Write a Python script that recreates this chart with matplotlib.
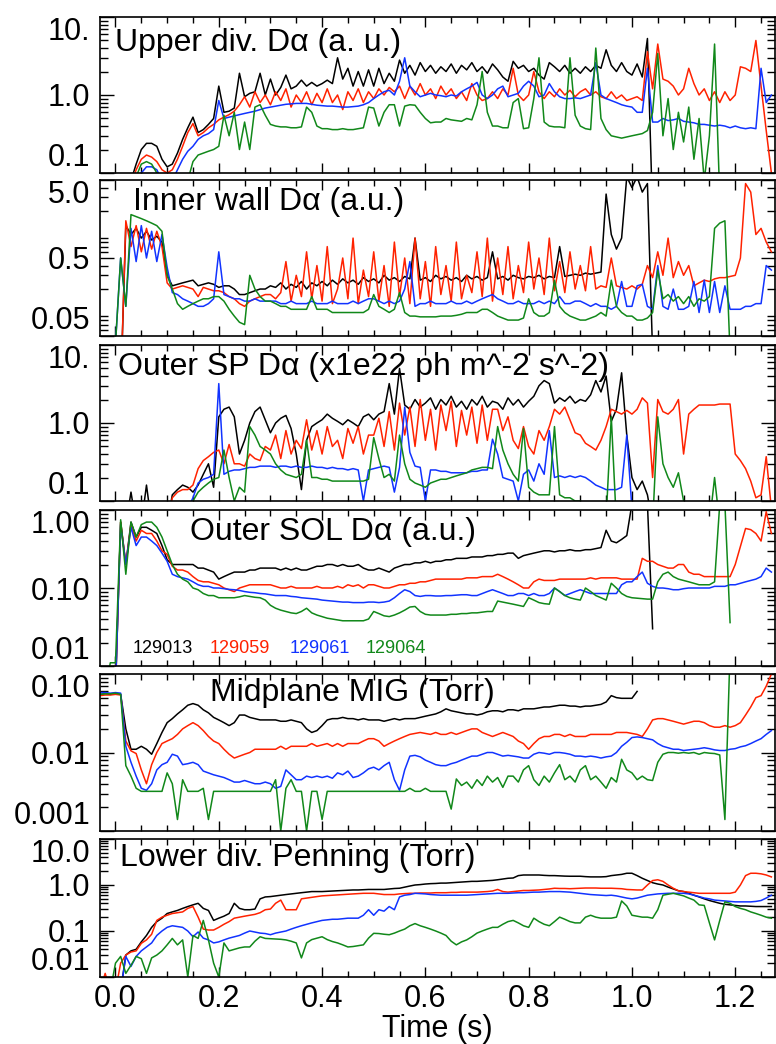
import numpy as np
import matplotlib
matplotlib.use("Agg")
import matplotlib.pyplot as plt
from matplotlib.ticker import FixedLocator, NullFormatter, LogLocator, MultipleLocator

plt.rcParams['font.family'] = ['Liberation Sans', 'DejaVu Sans']

nan = np.nan

# time base of the traces (s), one sample every 10 ms
t = np.round(np.arange(-0.03, 1.275, 0.01), 2)

shots = ["129013", "129059", "129061", "129064"]
colors = ["black", "#ff2200", "#1133ff", "#11881a"]

# -- Upper divertor D-alpha (a. u.) --
up_black = [0.05, 0.05, 0.05,
    0.05, 0.05, 0.06, 0.08, 0.13, 0.2, 0.24, 0.24, 0.22, 0.15,
    0.12, 0.13, 0.18, 0.27, 0.38, 0.52, 0.33, 0.36, 0.42, 0.5,
    1.3, 0.6, 0.62, 0.68, 1.9, 0.95, 1.05, 1.1, 1.9, 1.0,
    1.6, 1.0, 1.25, 1.8, 1.2, 1.3, 1.55, 1.3, 1.45, 1.3,
    1.4, 1.55, 1.4, 3.0, 1.6, 2.2, 1.3, 2.0, 1.3, 2.1,
    1.3, 2.2, 1.4, 1.9, 1.5, 2.8, 1.9, 2.4, 1.8, 2.6,
    2.0, 2.4, 1.9, 2.3, 2.0, 2.5, 1.9, 2.4, 2.1, 2.6,
    2.0, 2.3, 1.9, 2.5, 2.1, 1.7, 1.5, 2.7, 2.2, 2.4,
    2.0, 2.2, 1.8, 1.6, 2.6, 2.3, 2.0, 2.4, 1.9, 2.2,
    1.9, 2.3, 2.0, 2.4, 2.2, 3.8, 2.4, 2.0, 2.6, 2.0,
    1.8, 2.5, 1.7, 5.3, 0.03, nan, nan, nan, nan, nan,
    nan, nan, nan, nan, nan, nan, nan, nan, nan, nan,
    nan, nan, nan, nan, nan, nan, nan, nan]
up_red = [0.05, 0.05, 0.05,
    0.05, 0.05, 0.06, 0.07, 0.11, 0.15, 0.17, 0.16, 0.14, 0.11,
    0.10, 0.11, 0.15, 0.22, 0.33, 0.43, 0.3, 0.33, 0.38, 0.42,
    0.48, 0.52, 0.56, 0.62, 0.75, 0.95, 0.7, 1.1, 0.8, 1.0,
    0.75, 1.1, 0.85, 1.2, 0.7, 1.0, 0.8, 1.1, 0.75, 1.05,
    0.8, 1.2, 0.8, 1.0, 0.65, 1.1, 0.85, 1.2, 0.8, 1.1,
    0.9, 1.2, 1.0, 1.25, 1.1, 1.3, 0.9, 1.3, 1.0, 1.4,
    1.0, 1.2, 0.9, 1.3, 1.0, 1.2, 0.9, 1.1, 0.85, 1.4,
    1.0, 0.85, 0.9, 1.1, 0.9, 1.2, 1.0, 2.2, 1.0, 0.85,
    1.0, 2.0, 1.1, 0.9, 1.1, 0.95, 1.2, 1.0, 1.15, 0.95,
    1.1, 1.2, 1.0, 1.1, 0.95, 0.9, 1.1, 0.9, 1.0, 0.85,
    0.9, 0.95, 0.85, 3.6, 1.2, 4.5, 1.6, 1.5, 1.3, 1.0,
    1.2, 2.2, 1.4, 1.0, 1.2, 0.85, 1.1, 0.8, 1.1, 0.85,
    1.0, 2.3, 2.2, 2.0, 5.0, 1.3, 0.35, 0.1]
up_blue = [0.03, 0.03, 0.03,
    0.03, 0.04, 0.05, 0.07, 0.09, 0.1, 0.12, 0.12, 0.11, 0.08,
    0.07, 0.08, 0.11, 0.15, 0.19, 0.22, 0.27, 0.3, 0.32, 0.36,
    0.85, 0.5, 0.52, 0.54, 0.56, 0.58, 0.6, 0.62, 0.65, 0.68,
    0.7, 0.72, 0.74, 0.76, 0.77, 0.78, 0.78, 0.78, 0.76, 0.74,
    0.73, 0.72, 0.72, 0.71, 0.7, 0.7, 0.71, 0.72, 0.75, 0.8,
    0.9, 1.0, 1.1, 1.15, 1.0, 1.5, 3.0, 1.3, 1.1, 0.95,
    1.0, 1.05, 1.0, 0.98, 0.95, 1.0, 0.97, 1.1, 1.2, 1.3,
    1.45, 1.0, 0.9, 1.0, 1.2, 1.3, 0.95, 1.0, 1.05, 1.3,
    1.5, 1.3, 0.95, 1.0, 1.4, 1.1, 0.95, 0.9, 0.9, 0.92,
    0.9, 0.95, 1.0, 2.6, 1.0, 0.9, 0.85, 0.8, 0.75, 0.72,
    0.7, 0.6, 0.6, 2.2, 0.45, 0.45, 0.5, 0.47, 0.48, 0.5,
    0.46, 0.45, 0.44, 0.42, 0.42, 0.41, 0.4, 0.41, 0.4, 0.38,
    0.4, 0.38, 0.37, 0.38, 0.37, 2.2, 0.8, 1.0]
up_green = [0.03, 0.03, 0.03,
    0.03, 0.04, 0.05, 0.06, 0.09, 0.13, 0.14, 0.13, 0.1, 0.08,
    0.06, 0.05, 0.05, 0.06, 0.08, 0.14, 0.17, 0.18, 0.19, 0.2,
    0.22, 0.55, 0.3, 0.6, 0.2, 0.45, 0.2, 0.7, 0.75, 0.55,
    0.42, 0.4, 0.39, 0.39, 0.38, 0.38, 0.39, 0.7, 0.6, 0.4,
    0.37, 0.37, 0.36, 0.36, 0.37, 0.36, 0.36, 0.37, 0.38, 0.7,
    0.68, 0.4, 0.6, 0.75, 0.75, 0.4, 0.72, 0.75, 0.74, 0.6,
    0.5, 0.44, 0.45, 0.45, 0.5, 0.48, 0.47, 0.46, 0.5, 0.48,
    0.75, 2.0, 0.6, 0.4, 0.4, 0.38, 0.38, 0.8, 0.9, 0.37,
    0.38, 0.9, 3.0, 0.45, 0.4, 0.39, 0.39, 0.38, 3.0, 0.55,
    0.4, 0.37, 0.36, 4.0, 0.5, 0.36, 0.3, 0.29, 0.28, 0.29,
    0.3, 0.31, 0.32, 0.35, 0.6, 3.4, 0.3, 0.9, 0.2, 0.6,
    0.25, 0.7, 0.15, 0.5, 0.08, 0.3, 4.5, 0.05, nan, nan,
    nan, nan, nan, nan, nan, nan, nan, nan]

# -- Inner wall D-alpha (a.u.) --
in_black = [0.01, 0.01, 0.01,
    0.01, 0.01, 1.3, 1.0, 1.2, 0.9, 1.1, 0.85, 0.95, 0.8,
    0.3, 0.22, 0.23, 0.24, 0.25, 0.26, 0.22, 0.23, 0.24, 0.23,
    0.21, 0.22, 0.22, 0.2, 0.17, 0.17, 0.18, 0.19, 0.2, 0.2,
    0.22, 0.21, 0.24, 0.2, 0.23, 0.21, 0.25, 0.2, 0.24, 0.22,
    0.25, 0.22, 0.26, 0.23, 0.27, 0.24, 0.26, 0.23, 0.28, 0.25,
    0.27, 0.24, 0.3, 0.26, 0.28, 0.25, 0.29, 0.27, 0.9, 0.26,
    0.28, 0.25, 0.3, 0.27, 0.29, 0.26, 0.28, 0.25, 0.3, 0.27,
    0.29, 0.26, 0.28, 0.6, 0.27, 0.29, 0.26, 0.3, 0.28, 0.27,
    0.29, 0.28, 0.3, 0.27, 0.29, 0.28, 0.7, 0.29, 0.3, 0.31,
    0.3, 0.32, 0.31, 0.32, 0.33, 3.3, 1.0, 0.65, 0.9, 5.5,
    4.0, 5.5, 3.5, 4.5, 0.03, nan, nan, nan, nan, nan,
    nan, nan, nan, nan, nan, nan, nan, nan, nan, nan,
    nan, nan, nan, nan, nan, nan, nan, nan]
in_red = [0.01, 0.01, 0.01,
    0.01, 0.01, 1.5, 0.7, 1.3, 0.6, 1.2, 0.65, 1.1, 0.7,
    0.24, 0.2, 0.21, 0.22, 0.21, 0.2, 0.16, 0.21, 0.2, 0.19,
    0.19, 0.18, 0.16, 0.15, 0.13, 0.12, 0.14, 0.15, 0.16, 0.17,
    0.17, 0.15, 0.18, 0.45, 0.14, 0.3, 0.16, 0.6, 0.15, 0.4,
    0.14, 0.7, 0.13, 0.2, 0.5, 0.15, 0.9, 0.13, 0.35, 0.16,
    0.6, 0.14, 0.4, 0.12, 0.8, 0.16, 0.5, 0.13, 0.9, 0.15,
    0.45, 0.12, 0.7, 0.17, 0.4, 0.14, 0.8, 0.15, 0.3, 0.18,
    0.6, 0.16, 0.9, 0.14, 0.5, 0.17, 0.7, 0.15, 0.4, 0.18,
    0.8, 0.2, 0.5, 0.17, 0.9, 0.19, 0.45, 0.18, 0.6, 0.2,
    0.4, 0.19, 0.7, 0.2, 0.22, 0.21, 0.5, 0.22, 0.21, 0.2,
    0.22, 0.2, 0.23, 0.4, 0.28, 0.6, 0.3, 0.9, 0.28, 0.45,
    0.3, 0.4, 0.22, 0.24, 0.26, 0.25, 0.27, 0.28, 0.28, 0.29,
    0.3, 0.5, 4.5, 3.5, 1.0, 1.2, 0.8, 0.6]
in_blue = [0.01, 0.01, 0.01,
    0.04, 0.5, 0.12, 1.2, 0.45, 1.3, 0.5, 1.1, 0.45, 1.0,
    0.38, 0.18, 0.17, 0.15, 0.14, 0.13, 0.12, 0.12, 0.13, 0.15,
    0.6, 0.17, 0.16, 0.15, 0.15, 0.14, 0.14, 0.15, 0.14, 0.14,
    0.14, 0.14, 0.13, 0.13, 0.14, 0.13, 0.13, 0.13, 0.14, 0.13,
    0.13, 0.13, 0.14, 0.13, 0.13, 0.13, 0.14, 0.13, 0.14, 0.15,
    0.15, 0.14, 0.13, 0.14, 0.13, 0.14, 0.2, 0.45, 0.12, 0.13,
    0.13, 0.14, 0.13, 0.13, 0.13, 0.14, 0.13, 0.13, 0.14, 0.13,
    0.14, 0.15, 0.16, 0.17, 0.15, 0.14, 0.13, 0.13, 0.14, 0.13,
    0.13, 0.13, 0.14, 0.13, 0.14, 0.13, 0.16, 0.13, 0.13, 0.14,
    0.14, 0.13, 0.12, 0.13, 0.12, 0.12, 0.11, 0.12, 0.25, 0.12,
    0.12, 0.22, 0.23, 0.12, 0.11, 0.4, 0.12, 0.11, 0.2, 0.11,
    0.11, 0.12, 0.25, 0.1, 0.26, 0.1, 0.25, 0.1, 0.22, 0.11,
    0.11, 0.11, 0.12, 0.12, 0.13, 0.13, 0.4, 0.35]
in_green = [0.01, 0.01, 0.01,
    0.04, 0.5, 0.12, 1.8, 1.7, 1.6, 1.5, 1.4, 1.3, 1.1,
    0.3, 0.2, 0.13, 0.11, 0.12, 0.13, 0.14, 0.15, 0.15, 0.16,
    0.16, 0.14, 0.11, 0.09, 0.075, 0.07, 0.3, 0.2, 0.16, 0.14,
    0.14, 0.13, 0.12, 0.12, 0.11, 0.11, 0.11, 0.11, 0.16, 0.11,
    0.11, 0.11, 0.1, 0.1, 0.1, 0.1, 0.1, 0.1, 0.1, 0.11,
    0.17, 0.12, 0.11, 0.1, 0.11, 0.18, 0.1, 0.09, 0.09, 0.088,
    0.088, 0.088, 0.088, 0.09, 0.09, 0.09, 0.092, 0.095, 0.1, 0.1,
    0.1, 0.11, 0.11, 0.1, 0.09, 0.085, 0.08, 0.08, 0.08, 0.085,
    0.15, 0.1, 0.09, 0.09, 0.1, 0.26, 0.12, 0.1, 0.09, 0.085,
    0.08, 0.08, 0.085, 0.09, 0.1, 0.09, 0.26, 0.12, 0.1, 0.09,
    0.09, 0.08, 0.08, 0.085, 0.1, 0.35, 0.15, 0.17, 0.14, 0.16,
    0.13, 0.16, 0.12, 0.15, 0.14, 0.16, 1.2, 1.4, 1.5, 0.03,
    nan, nan, nan, nan, nan, nan, nan, nan]

# -- Outer strike point D-alpha (x1e22 ph m^-2 s^-2) --
sp_black = [0.05, 0.05, 0.05,
    0.05, 0.05, 0.05, 0.13, 0.05, 0.05, 0.16, 0.05, 0.05, 0.05,
    0.05, 0.12, 0.14, 0.16, 0.15, 0.13, 0.16, 0.22, 0.3, 0.15,
    1.2, 1.5, 1.6, 1.2, 0.4, 0.6, 1.0, 1.4, 1.6, 1.1,
    0.75, 1.0, 1.15, 1.25, 0.85, 0.4, 0.14, 0.6, 0.9, 1.0,
    1.1, 1.3, 1.15, 1.05, 0.95, 1.1, 1.0, 0.9, 1.2, 1.3,
    1.1, 1.3, 1.4, 3.2, 1.3, 5.0, 1.7, 1.5, 2.0, 1.6,
    1.8, 2.1, 1.5, 2.0, 1.7, 2.2, 1.6, 1.9, 1.5, 2.0,
    1.7, 2.2, 1.6, 1.9, 1.8, 1.5, 2.1, 1.7, 2.0, 1.6,
    1.9, 2.2, 3.0, 3.5, 3.2, 1.8, 2.1, 1.9, 2.2, 1.8,
    2.0, 1.9, 2.3, 3.5, 2.5, 4.0, 1.05, 1.5, 4.4, 0.7,
    0.2, 0.14, 0.18, 0.12, 0.05, nan, nan, nan, nan, nan,
    nan, nan, nan, nan, nan, nan, nan, nan, nan, nan,
    nan, nan, nan, nan, nan, nan, nan, nan]
sp_red = [0.05, 0.05, 0.05,
    0.05, 0.05, 0.05, 0.05, 0.05, 0.05, 0.05, 0.05, 0.05, 0.05,
    0.05, 0.11, 0.13, 0.14, 0.14, 0.16, 0.26, 0.33, 0.37, 0.42,
    0.45, 0.3, 0.53, 0.3, 0.3, 0.28, 0.4, 0.35, 0.33, 0.5,
    0.45, 0.7, 0.35, 0.8, 0.4, 0.6, 0.47, 1.1, 0.45, 0.8,
    0.4, 0.9, 0.5, 0.6, 0.35, 0.85, 0.55, 0.9, 0.4, 0.7,
    0.7, 1.15, 0.5, 1.4, 0.45, 1.8, 0.7, 1.6, 0.5, 2.0,
    0.6, 1.5, 0.45, 1.7, 0.8, 1.9, 0.5, 1.45, 0.7, 1.6,
    0.55, 1.7, 0.6, 1.5, 1.5, 0.8, 1.2, 0.6, 0.47, 0.9,
    0.5, 0.4, 0.8, 0.6, 0.9, 1.5, 1.3, 1.6, 1.1, 0.75,
    0.7, 0.55, 0.5, 0.45, 0.6, 0.9, 1.5, 1.4, 1.3, 1.45,
    1.3, 1.5, 2.1, 1.8, 0.2, 2.0, 1.4, 1.3, 1.5, 2.0,
    0.4, 1.3, 1.5, 1.7, 1.7, 1.7, 1.7, 1.75, 1.75, 1.75,
    0.4, 0.33, 0.26, 0.18, 0.11, 0.12, 0.37, 0.08]
sp_blue = [0.05, 0.05, 0.05,
    0.05, 0.05, 0.05, 0.05, 0.05, 0.05, 0.05, 0.05, 0.05, 0.05,
    0.05, 0.05, 0.05, 0.05, 0.08, 0.11, 0.17, 0.19, 0.2, 0.22,
    3.2, 0.22, 0.24, 0.25, 0.25, 0.26, 0.27, 0.27, 0.28, 0.28,
    0.28, 0.27, 0.28, 0.28, 0.27, 0.28, 0.27, 0.27, 0.28, 0.27,
    0.27, 0.26, 0.27, 0.26, 0.26, 0.25, 0.26, 0.25, 0.1, 0.25,
    0.26, 0.27, 0.28, 0.27, 0.13, 0.27, 1.6, 0.42, 0.28, 0.27,
    0.1, 0.25, 0.25, 0.24, 0.24, 0.23, 0.23, 0.23, 0.23, 0.24,
    0.24, 0.25, 0.25, 0.62, 0.4, 0.2, 0.19, 0.18, 0.1, 0.22,
    0.25, 0.18, 0.3, 0.22, 0.8, 0.2, 0.21, 0.2, 0.21, 0.2,
    0.21, 0.2, 0.18, 0.16, 0.15, 0.14, 0.14, 0.14, 0.15, 0.7,
    0.08, 0.05, nan, nan, nan, nan, nan, nan, nan, nan,
    nan, nan, nan, nan, nan, nan, nan, nan, nan, nan,
    nan, nan, nan, nan, nan, nan, nan, nan]
sp_green = [0.05, 0.05, 0.05,
    0.05, 0.05, 0.05, 0.05, 0.05, 0.05, 0.05, 0.05, 0.05, 0.05,
    0.05, 0.05, 0.05, 0.05, 0.05, 0.1, 0.13, 0.15, 0.17, 0.19,
    0.2, 0.45, 0.2, 0.1, 0.15, 0.13, 0.9, 0.7, 0.5, 0.45,
    0.4, 0.3, 0.25, 0.22, 0.21, 0.2, 0.22, 0.6, 0.2, 0.2,
    0.19, 0.19, 0.18, 0.18, 0.18, 0.18, 0.18, 0.18, 0.18, 0.19,
    0.65, 0.35, 0.2, 0.22, 0.18, 0.7, 0.3, 0.19, 0.17, 0.16,
    0.15, 0.17, 0.18, 0.19, 0.19, 0.2, 0.21, 0.22, 0.23, 0.25,
    0.26, 0.27, 0.27, 0.26, 0.9, 0.45, 0.3, 0.22, 0.18, 0.85,
    0.15, 0.13, 0.12, 0.12, 0.12, 0.9, 0.12, 0.11, 0.11, 0.1,
    0.1, 0.09, 0.08, 0.07, 0.06, 0.06, 1.2, 0.05, 0.05, 0.05,
    0.05, 0.05, 0.05, 0.05, 0.05, 1.2, 0.3, 0.2, 0.15, 0.23,
    0.1, 0.05, 0.05, 0.05, 0.05, 0.05, 0.2, 0.05, 0.05, 0.05,
    0.05, 0.05, 0.05, 0.05, 0.05, 0.05, 0.05, 0.05]

# -- Outer SOL D-alpha (a.u.) --
sol_black = [0.005, 0.005, 0.005,
    0.005, 0.7, 0.2, 0.7, 0.45, 0.6, 0.6, 0.55, 0.5, 0.35,
    0.23, 0.2, 0.2, 0.2, 0.2, 0.2, 0.18, 0.18, 0.17, 0.16,
    0.13, 0.14, 0.15, 0.16, 0.16, 0.16, 0.17, 0.17, 0.18, 0.18,
    0.18, 0.18, 0.17, 0.18, 0.17, 0.18, 0.17, 0.17, 0.18, 0.19,
    0.19, 0.2, 0.2, 0.19, 0.2, 0.19, 0.19, 0.2, 0.18, 0.17,
    0.17, 0.18, 0.17, 0.16, 0.18, 0.19, 0.2, 0.2, 0.21, 0.21,
    0.22, 0.21, 0.22, 0.22, 0.23, 0.23, 0.24, 0.24, 0.24, 0.25,
    0.25, 0.25, 0.26, 0.26, 0.27, 0.27, 0.28, 0.28, 0.24, 0.26,
    0.27, 0.28, 0.29, 0.3, 0.3, 0.29, 0.3, 0.3, 0.31, 0.3,
    0.3, 0.31, 0.31, 0.32, 0.33, 0.55, 0.4, 0.38, 0.42, 0.47,
    1.2, 1.2, 1.2, 1.2, 0.03, nan, nan, nan, nan, nan,
    nan, nan, nan, nan, nan, nan, nan, nan, nan, nan,
    nan, nan, nan, nan, nan, nan, nan, nan]
sol_red = [0.005, 0.005, 0.005,
    0.005, 0.7, 0.2, 0.65, 0.4, 0.55, 0.5, 0.5, 0.4, 0.3,
    0.27, 0.19, 0.17, 0.17, 0.16, 0.14, 0.125, 0.12, 0.12, 0.115,
    0.11, 0.1, 0.095, 0.09, 0.1, 0.105, 0.11, 0.11, 0.11, 0.11,
    0.11, 0.105, 0.1, 0.1, 0.105, 0.1, 0.1, 0.1, 0.1, 0.105,
    0.1, 0.1, 0.1, 0.105, 0.1, 0.11, 0.105, 0.11, 0.1, 0.11,
    0.11, 0.105, 0.1, 0.1, 0.105, 0.11, 0.11, 0.115, 0.115, 0.12,
    0.12, 0.125, 0.13, 0.13, 0.13, 0.13, 0.13, 0.13, 0.135, 0.135,
    0.135, 0.14, 0.14, 0.14, 0.15, 0.14, 0.13, 0.12, 0.11, 0.1,
    0.1, 0.12, 0.13, 0.125, 0.125, 0.125, 0.13, 0.13, 0.13, 0.13,
    0.13, 0.13, 0.135, 0.13, 0.135, 0.135, 0.135, 0.135, 0.13, 0.13,
    0.13, 0.13, 0.24, 0.22, 0.22, 0.2, 0.19, 0.18, 0.18, 0.2,
    0.2, 0.16, 0.15, 0.15, 0.14, 0.14, 0.14, 0.14, 0.14, 0.14,
    0.2, 0.34, 0.58, 0.56, 0.5, 0.4, 0.95, 0.5]
sol_blue = [0.005, 0.005, 0.005,
    0.005, 0.65, 0.2, 0.6, 0.35, 0.45, 0.45, 0.4, 0.35, 0.28,
    0.22, 0.15, 0.14, 0.135, 0.13, 0.12, 0.11, 0.105, 0.105, 0.1,
    0.1, 0.098, 0.096, 0.095, 0.093, 0.09, 0.088, 0.087, 0.085, 0.084,
    0.082, 0.08, 0.08, 0.08, 0.078, 0.077, 0.075, 0.074, 0.073, 0.072,
    0.07, 0.069, 0.068, 0.067, 0.066, 0.066, 0.065, 0.065, 0.065, 0.066,
    0.066, 0.065, 0.066, 0.068, 0.075, 0.085, 0.095, 0.09, 0.08, 0.078,
    0.08, 0.08, 0.079, 0.079, 0.08, 0.08, 0.081, 0.082, 0.082, 0.08,
    0.08, 0.085, 0.09, 0.095, 0.09, 0.085, 0.08, 0.08, 0.085, 0.085,
    0.08, 0.085, 0.08, 0.08, 0.085, 0.1, 0.09, 0.08, 0.085, 0.09,
    0.095, 0.09, 0.085, 0.085, 0.085, 0.085, 0.085, 0.085, 0.11, 0.12,
    0.12, 0.14, 0.16, 0.115, 0.105, 0.1, 0.1, 0.098, 0.095, 0.095,
    0.098, 0.1, 0.1, 0.1, 0.1, 0.1, 0.105, 0.105, 0.105, 0.11,
    0.11, 0.115, 0.12, 0.125, 0.13, 0.14, 0.18, 0.16]
sol_green = [0.005, 0.005, 0.011,
    0.011, 0.75, 0.15, 0.7, 0.45, 0.65, 0.7, 0.7, 0.6, 0.45,
    0.3, 0.2, 0.15, 0.13, 0.12, 0.1, 0.095, 0.085, 0.08, 0.08,
    0.075, 0.075, 0.075, 0.075, 0.077, 0.08, 0.078, 0.076, 0.075, 0.07,
    0.06, 0.055, 0.052, 0.05, 0.048, 0.047, 0.05, 0.055, 0.048, 0.045,
    0.043, 0.041, 0.04, 0.039, 0.038, 0.038, 0.038, 0.038, 0.038, 0.04,
    0.05, 0.047, 0.044, 0.043, 0.045, 0.048, 0.052, 0.057, 0.058, 0.05,
    0.046, 0.045, 0.045, 0.045, 0.045, 0.046, 0.046, 0.047, 0.047, 0.048,
    0.048, 0.049, 0.05, 0.05, 0.068, 0.066, 0.064, 0.062, 0.06, 0.058,
    0.075, 0.07, 0.065, 0.063, 0.062, 0.1, 0.09, 0.08, 0.075, 0.072,
    0.07, 0.1, 0.09, 0.08, 0.075, 0.07, 0.115, 0.1, 0.085, 0.078,
    0.075, 0.074, 0.073, 0.072, 0.072, 0.12, 0.15, 0.16, 0.14, 0.13,
    0.125, 0.12, 0.115, 0.11, 0.11, 0.11, 0.12, 1.2, 1.2, 0.036,
    nan, nan, nan, nan, nan, nan, nan, nan]

# -- Midplane MIG (Torr) --
mig_black = [0.055, 0.056, 0.055,
    0.056, 0.055, 0.02, 0.011, 0.011, 0.012, 0.011, 0.0095, 0.013, 0.018,
    0.024, 0.027, 0.031, 0.035, 0.04, 0.042, 0.04, 0.035, 0.032, 0.028,
    0.026, 0.024, 0.022, 0.024, 0.03, 0.03, 0.028, 0.027, 0.026, 0.026,
    0.026, 0.026, 0.025, 0.025, 0.026, 0.025, 0.024, 0.02, 0.018, 0.019,
    0.022, 0.026, 0.027, 0.027, 0.028, 0.027, 0.027, 0.026, 0.027, 0.026,
    0.026, 0.026, 0.025, 0.026, 0.027, 0.026, 0.027, 0.027, 0.027, 0.028,
    0.029, 0.03, 0.031, 0.033, 0.036, 0.034, 0.033, 0.032, 0.031, 0.031,
    0.03, 0.031, 0.033, 0.034, 0.034, 0.033, 0.035, 0.035, 0.034, 0.036,
    0.036, 0.036, 0.037, 0.038, 0.038, 0.039, 0.04, 0.04, 0.039, 0.039,
    0.038, 0.039, 0.039, 0.04, 0.041, 0.044, 0.053, 0.05, 0.049, 0.049,
    0.049, 0.06, nan, nan, nan, nan, nan, nan, nan, nan,
    nan, nan, nan, nan, nan, nan, nan, nan, nan, nan,
    nan, nan, nan, nan, nan, nan, nan, nan]
mig_red = [0.053, 0.054, 0.054,
    0.055, 0.054, 0.014, 0.0105, 0.0097, 0.006, 0.004, 0.007, 0.01, 0.013,
    0.014, 0.015, 0.017, 0.02, 0.022, 0.024, 0.022, 0.019, 0.016, 0.014,
    0.013, 0.011, 0.0095, 0.0085, 0.009, 0.0095, 0.01, 0.011, 0.011, 0.011,
    0.011, 0.011, 0.012, 0.011, 0.012, 0.012, 0.012, 0.012, 0.013, 0.012,
    0.0125, 0.013, 0.012, 0.013, 0.012, 0.013, 0.013, 0.013, 0.014, 0.015,
    0.015, 0.014, 0.012, 0.013, 0.014, 0.015, 0.016, 0.017, 0.0175, 0.018,
    0.0175, 0.017, 0.018, 0.017, 0.017, 0.018, 0.017, 0.018, 0.019, 0.02,
    0.02, 0.018, 0.017, 0.016, 0.017, 0.018, 0.017, 0.016, 0.014, 0.013,
    0.011, 0.013, 0.015, 0.016, 0.016, 0.017, 0.017, 0.016, 0.017, 0.016,
    0.016, 0.016, 0.017, 0.017, 0.017, 0.017, 0.017, 0.018, 0.018, 0.018,
    0.0175, 0.017, 0.016, 0.02, 0.026, 0.027, 0.027, 0.026, 0.025, 0.024,
    0.023, 0.024, 0.025, 0.025, 0.024, 0.022, 0.021, 0.021, 0.022, 0.021,
    0.022, 0.024, 0.03, 0.038, 0.05, 0.053, 0.07, 0.1]
mig_blue = [0.058, 0.058, 0.057,
    0.058, 0.057, 0.012, 0.0075, 0.005, 0.0035, 0.0033, 0.004, 0.006, 0.007,
    0.0075, 0.0095, 0.009, 0.007, 0.0072, 0.0075, 0.007, 0.0058, 0.0055, 0.0052,
    0.005, 0.0048, 0.0045, 0.0042, 0.0042, 0.0044, 0.0042, 0.004, 0.004, 0.0042,
    0.004, 0.0035, 0.0037, 0.006, 0.0052, 0.0045, 0.0045, 0.005, 0.0048, 0.005,
    0.0048, 0.005, 0.0047, 0.0055, 0.0052, 0.0058, 0.0048, 0.005, 0.0055, 0.0062,
    0.0065, 0.006, 0.0068, 0.0075, 0.0045, 0.0033, 0.006, 0.009, 0.0092, 0.0088,
    0.008, 0.0075, 0.007, 0.0068, 0.0068, 0.0072, 0.0075, 0.008, 0.0085, 0.009,
    0.009, 0.0095, 0.01, 0.01, 0.0095, 0.009, 0.0092, 0.009, 0.0088, 0.0085,
    0.0085, 0.0095, 0.01, 0.0098, 0.0095, 0.01, 0.01, 0.0098, 0.0095, 0.009,
    0.009, 0.0088, 0.009, 0.0088, 0.0085, 0.0088, 0.009, 0.01, 0.012, 0.0135,
    0.0155, 0.0158, 0.0155, 0.015, 0.0145, 0.013, 0.012, 0.0115, 0.011, 0.011,
    0.0106, 0.0108, 0.011, 0.0112, 0.0115, 0.0112, 0.0108, 0.0106, 0.0106, 0.011,
    0.0112, 0.0118, 0.0122, 0.013, 0.014, 0.015, 0.017, 0.019]
mig_green = [0.055, 0.056, 0.056,
    0.057, 0.055, 0.0068, 0.005, 0.0035, 0.0032, 0.0032, 0.0032, 0.0032, 0.0032,
    0.0055, 0.004, 0.0014, 0.0045, 0.0032, 0.0032, 0.0032, 0.0035, 0.0014, 0.0032,
    0.0032, 0.0032, 0.0032, 0.0032, 0.0032, 0.0032, 0.0032, 0.0032, 0.0032, 0.0032,
    0.0032, 0.0045, 0.001, 0.0035, 0.0045, 0.0032, 0.0032, 0.001, 0.0032, 0.0032,
    0.0014, 0.0032, 0.0032, 0.0032, 0.0032, 0.0032, 0.0032, 0.0032, 0.0032, 0.0032,
    0.0032, 0.0032, 0.0032, 0.0032, 0.0032, 0.0032, 0.0032, 0.0035, 0.0032, 0.0032,
    0.0035, 0.0032, 0.0032, 0.0032, 0.0032, 0.0019, 0.0046, 0.0038, 0.0042, 0.0035,
    0.0045, 0.0038, 0.005, 0.0042, 0.0048, 0.0036, 0.005, 0.005, 0.0042, 0.006,
    0.0068, 0.0045, 0.0038, 0.005, 0.0042, 0.0055, 0.007, 0.0045, 0.005, 0.0042,
    0.006, 0.0068, 0.0045, 0.005, 0.0042, 0.0035, 0.0048, 0.0042, 0.0082, 0.006,
    0.0055, 0.0045, 0.005, 0.0045, 0.0044, 0.0075, 0.0095, 0.01, 0.01, 0.0098,
    0.01, 0.0098, 0.01, 0.0095, 0.01, 0.0098, 0.0097, 0.0093, 0.0014, 0.2,
    nan, nan, nan, nan, nan, nan, nan, nan]

# -- Lower divertor Penning (Torr) --
pen_black = [0.005, 0.005, 0.005,
    0.005, 0.005, 0.03, 0.037, 0.04, 0.058, 0.08, 0.12, 0.16, 0.19,
    0.24, 0.26, 0.28, 0.31, 0.34, 0.37, 0.4, 0.31, 0.28, 0.17,
    0.19, 0.21, 0.24, 0.4, 0.31, 0.29, 0.29, 0.3, 0.5, 0.55,
    0.56, 0.58, 0.6, 0.62, 0.64, 0.66, 0.68, 0.7, 0.72, 0.72,
    0.72, 0.73, 0.74, 0.75, 0.76, 0.77, 0.78, 0.78, 0.79, 0.8,
    0.8, 0.8, 0.8, 0.82, 0.84, 0.85, 0.9, 0.95, 1.0, 1.02,
    1.05, 1.07, 1.08, 1.1, 1.1, 1.12, 1.14, 1.16, 1.18, 1.2,
    1.2, 1.22, 1.24, 1.26, 1.3, 1.35, 1.4, 1.42, 1.6, 1.65,
    1.65, 1.65, 1.65, 1.62, 1.6, 1.6, 1.58, 1.56, 1.55, 1.55,
    1.55, 1.52, 1.5, 1.5, 1.5, 1.52, 1.6, 1.65, 1.7, 1.8,
    1.8, 1.6, 1.4, 1.25, 1.12, 1.05, 1.0, 0.9, 0.82, 0.75,
    0.72, 0.66, 0.6, 0.55, 0.5, 0.46, 0.43, 0.4, 0.38, 0.37,
    0.36, 0.35, 0.35, 0.345, 0.34, 0.34, 0.34, 0.34]
pen_red = [0.005, 0.012, 0.005,
    0.005, 0.02, 0.03, 0.035, 0.037, 0.054, 0.064, 0.085, 0.17, 0.2,
    0.22, 0.24, 0.25, 0.26, 0.31, 0.34, 0.2, 0.11, 0.105, 0.105,
    0.12, 0.14, 0.16, 0.19, 0.2, 0.21, 0.22, 0.23, 0.25, 0.29,
    0.3, 0.4, 0.47, 0.29, 0.29, 0.29, 0.5, 0.52, 0.54, 0.56,
    0.58, 0.59, 0.6, 0.61, 0.62, 0.63, 0.64, 0.65, 0.66, 0.66,
    0.66, 0.64, 0.62, 0.62, 0.62, 0.64, 0.65, 0.66, 0.66, 0.67,
    0.67, 0.67, 0.68, 0.68, 0.68, 0.69, 0.69, 0.7, 0.7, 0.7,
    0.7, 0.71, 0.72, 0.74, 0.8, 0.72, 0.7, 0.72, 0.74, 0.76,
    0.76, 0.77, 0.78, 0.8, 0.82, 0.85, 0.84, 0.84, 0.83, 0.84,
    0.85, 0.86, 0.86, 0.86, 0.85, 0.85, 0.85, 0.84, 0.83, 0.8,
    0.79, 0.78, 0.78, 1.0, 1.25, 1.3, 1.2, 1.0, 0.85, 0.75,
    0.72, 0.7, 0.68, 0.66, 0.66, 0.66, 0.66, 0.66, 0.66, 0.66,
    0.7, 1.0, 1.6, 1.8, 1.8, 1.75, 1.65, 1.5]
pen_blue = [0.005, 0.005, 0.005,
    0.005, 0.005, 0.028, 0.017, 0.028, 0.037, 0.045, 0.055, 0.08, 0.1,
    0.12, 0.13, 0.125, 0.12, 0.1, 0.075, 0.095, 0.07, 0.064, 0.055,
    0.058, 0.064, 0.07, 0.075, 0.08, 0.09, 0.1, 0.095, 0.09, 0.088,
    0.083, 0.09, 0.095, 0.1, 0.11, 0.12, 0.13, 0.14, 0.15, 0.16,
    0.17, 0.175, 0.18, 0.18, 0.185, 0.19, 0.19, 0.19, 0.22, 0.29,
    0.22, 0.29, 0.27, 0.34, 0.29, 0.55, 0.6, 0.62, 0.66, 0.65,
    0.64, 0.62, 0.61, 0.6, 0.6, 0.6, 0.6, 0.6, 0.6, 0.61,
    0.62, 0.63, 0.64, 0.65, 0.66, 0.66, 0.66, 0.67, 0.68, 0.68,
    0.69, 0.7, 0.7, 0.71, 0.72, 0.72, 0.72, 0.71, 0.7, 0.68,
    0.66, 0.64, 0.62, 0.61, 0.6, 0.59, 0.6, 0.58, 0.55, 0.52,
    0.5, 0.52, 0.56, 0.6, 0.62, 0.64, 0.65, 0.66, 0.66, 0.66,
    0.66, 0.64, 0.6, 0.56, 0.52, 0.5, 0.47, 0.46, 0.45, 0.44,
    0.43, 0.43, 0.43, 0.43, 0.44, 0.46, 0.52, 0.6]
pen_green = [0.005, 0.005, 0.005,
    0.02, 0.028, 0.012, 0.018, 0.028, 0.025, 0.012, 0.026, 0.03, 0.037,
    0.05, 0.069, 0.05, 0.064, 0.01, 0.08, 0.069, 0.17, 0.064, 0.02,
    0.01, 0.055, 0.037, 0.04, 0.043, 0.045, 0.045, 0.06, 0.075, 0.069,
    0.068, 0.067, 0.066, 0.064, 0.06, 0.055, 0.026, 0.055, 0.065, 0.07,
    0.075, 0.065, 0.059, 0.055, 0.05, 0.045, 0.046, 0.048, 0.05, 0.07,
    0.089, 0.088, 0.085, 0.083, 0.09, 0.1, 0.11, 0.13, 0.145, 0.13,
    0.12, 0.11, 0.1, 0.09, 0.08, 0.06, 0.05, 0.058, 0.064, 0.075,
    0.09, 0.1, 0.11, 0.12, 0.12, 0.14, 0.16, 0.17, 0.15, 0.13,
    0.12, 0.19, 0.16, 0.14, 0.13, 0.16, 0.2, 0.18, 0.16, 0.15,
    0.15, 0.2, 0.22, 0.2, 0.19, 0.19, 0.19, 0.2, 0.45, 0.35,
    0.22, 0.21, 0.2, 0.2, 0.19, 0.29, 0.6, 0.63, 0.66, 0.62,
    0.58, 0.52, 0.47, 0.37, 0.36, 0.15, 0.064, 0.17, 0.43, 0.4,
    0.34, 0.31, 0.29, 0.26, 0.24, 0.22, 0.2, 0.19]

panels = [
    ("Upper div. Dα (a. u.)", [up_black, up_red, up_blue, up_green],
     (0.1, 10), [0.1, 1.0, 10.0], ["0.1", "1.0", "10."], (0.022, 0.833)),
    ("Inner wall Dα (a.u.)", [in_black, in_red, in_blue, in_green],
     (0.05, 5.0), [0.05, 0.5, 5.0], ["0.05", "0.5", "5.0"], (0.049, 0.859)),
    ("Outer SP Dα (x1e22 ph m^-2 s^-2)", [sp_black, sp_red, sp_blue, sp_green],
     (0.1, 10), [0.1, 1.0, 10.0], ["0.1", "1.0", "10."], (0.027, 0.859)),
    ("Outer SOL Dα (a.u.)", [sol_black, sol_red, sol_blue, sol_green],
     (0.01, 1.0), [0.01, 0.1, 1.0], ["0.01", "0.10", "1.00"], (0.133, 0.859)),
    ("Midplane MIG (Torr)", [mig_black, mig_red, mig_blue, mig_green],
     (0.001, 0.1), [0.001, 0.01, 0.1], ["0.001", "0.01", "0.10"], (0.163, 0.879)),
    ("Lower div. Penning (Torr)", [pen_black, pen_red, pen_blue, pen_green],
     (0.01, 10), [0.01, 0.1, 1.0, 10.0], ["0.01", "0.1", "1.0", "10.0"], (0.030, 0.862)),
]

# axes boxes in figure pixels (top, bottom)
boxes = [(17, 173), (180, 336), (345, 501), (510, 666), (674, 831), (839, 977)]
W, H = 776, 1044

fig = plt.figure(figsize=(W / 100, H / 100), dpi=100)

for i, (title, series, ylim, yt, ylab, tpos) in enumerate(panels):
    top, bot = boxes[i]
    ax = fig.add_axes([100 / W, 1 - bot / H, 675 / W, (bot - top) / H])
    for vals, c in zip(series, colors):
        ax.plot(t, vals, color=c, lw=1.1)
    ax.set_yscale("log")
    ax.set_ylim(*ylim)
    ax.set_xlim(-0.03, 1.277)
    ax.yaxis.set_major_locator(FixedLocator(yt))
    ax.set_yticklabels(ylab, fontsize=22)
    ax.yaxis.set_minor_locator(LogLocator(base=10, subs=np.arange(2, 10)))
    ax.yaxis.set_minor_formatter(NullFormatter())
    ticks = ax.yaxis.get_major_ticks()
    ticks[0].label1.set_verticalalignment("bottom")
    ticks[-1].label1.set_verticalalignment("top")
    ax.xaxis.set_major_locator(MultipleLocator(0.2))
    ax.xaxis.set_minor_locator(MultipleLocator(0.05))
    ax.tick_params(which="both", direction="in", top=True, right=True, width=1.0)
    ax.tick_params(axis="y", which="major", length=10, pad=7)
    ax.tick_params(axis="y", which="minor", length=6)
    ax.tick_params(axis="x", which="major", length=7)
    ax.tick_params(axis="x", which="minor", length=4)
    for s in ax.spines.values():
        s.set_linewidth(1.2)
    ax.text(tpos[0], tpos[1], title, transform=ax.transAxes, fontsize=23,
            ha="left", va="center")
    if i < 5:
        ax.set_xticklabels([])
    else:
        ax.tick_params(axis="x", labelsize=22, pad=5)
        ax.set_xlabel("Time (s)", fontsize=22, labelpad=0)
    if i == 3:
        for name, c, xx in zip(shots, colors, [0.049, 0.163, 0.281, 0.393]):
            ax.text(xx, 0.115, name, color=c, fontsize=13, transform=ax.transAxes,
                    ha="left", va="center")

fig.savefig("out.png", dpi=100)
